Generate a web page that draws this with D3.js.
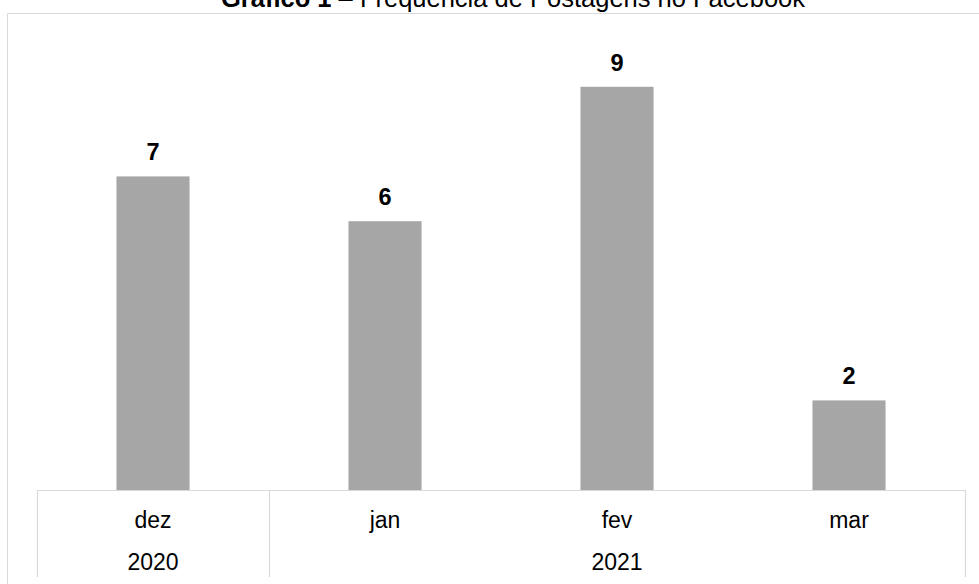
<!DOCTYPE html>
<html><head><meta charset="utf-8">
<script src="https://cdn.jsdelivr.net/npm/d3@7"></script>
<style>body{margin:0;background:#fff}svg{display:block}</style>
</head><body>
<svg id="c" width="979" height="584"></svg>
<script>
const months = ["dez","jan","fev","mar"];
const values = [7,6,9,2];
const years = [{label:"2020", from:0, to:0},{label:"2021", from:1, to:3}];
const yTicks = [0,10];

(function(){
const svg = d3.select("#c");
const font = "Liberation Sans, Arial, sans-serif";
const grid = "#d9d9d9";

// outer frame
svg.append("path").attr("d","M7.5,584 V13.5 H979").attr("fill","none").attr("stroke",grid).attr("stroke-width",1);

// title
const t = svg.append("text").attr("x",513).attr("y",7).attr("text-anchor","middle")
  .attr("font-family",font).attr("font-size",25.5).attr("fill","#000");
t.append("tspan").attr("font-weight","bold").text("Gráfico 1");
t.append("tspan").text(" – Frequência de Postagens no Facebook");

const x = d3.scaleBand().domain(months).range([37,965]).paddingInner(0.685).paddingOuter(0.3425);
const y = d3.scaleLinear().domain(d3.extent(yTicks)).range([490,42]);

svg.selectAll("rect.bar").data(values).join("rect").attr("class","bar")
  .attr("x",(d,i)=>x(months[i])).attr("width",x.bandwidth())
  .attr("y",d=>y(d)).attr("height",d=>y(0)-y(d)).attr("fill","#a6a6a6");

svg.selectAll("text.val").data(values).join("text").attr("class","val")
  .attr("x",(d,i)=>x(months[i])+x.bandwidth()/2).attr("y",d=>y(d)-16)
  .attr("text-anchor","middle").attr("font-family",font).attr("font-weight","bold")
  .attr("font-size",23.5).text(d=>d);

// category table
const step = x.step();
const tl = 37, tr = 965, tt = 490, tb = 577;
svg.append("path").attr("d",`M${tl+0.5},${tb} V${tt+0.5} H${tr+0.5} V${tb}`)
  .attr("fill","none").attr("stroke",grid).attr("stroke-width",1.2);
years.forEach(yr=>{
  if (yr.from>0){
    const xd = tl + step*yr.from;
    svg.append("line").attr("x1",xd+0.5).attr("x2",xd+0.5).attr("y1",tt).attr("y2",tb)
      .attr("stroke",grid).attr("stroke-width",1.2);
  }
});
svg.selectAll("text.mon").data(months).join("text").attr("class","mon")
  .attr("x",d=>x(d)+x.bandwidth()/2).attr("y",528).attr("text-anchor","middle")
  .attr("font-family",font).attr("font-size",23).attr("fill","#000").text(d=>d);
svg.selectAll("text.yr").data(years).join("text").attr("class","yr")
  .attr("x",d=>tl + step*(d.from + d.to + 1)/2).attr("y",570).attr("text-anchor","middle")
  .attr("font-family",font).attr("font-size",23).attr("fill","#000").text(d=>d.label);
})();
</script>
</body></html>
